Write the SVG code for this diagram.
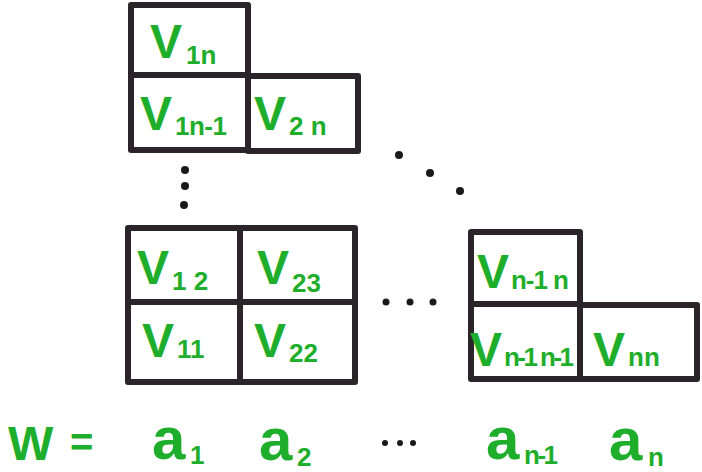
<svg xmlns="http://www.w3.org/2000/svg" width="702" height="472" viewBox="0 0 702 472">
<style>
.cell{fill:#fff;stroke:#2b2428;stroke-width:6;stroke-linejoin:round}
.lbl{font-family:"Liberation Sans",Arial,sans-serif;font-weight:bold;fill:#1fae2c}
.big{font-size:48px}
.sub{font-size:26px}
.aa{font-size:60px}
.dot{fill:#1a1a1a}
</style>
<rect width="702" height="472" fill="#fff"/>
<g id="top-group">
<g id="v1n"><rect class="cell" x="131" y="5" width="117" height="70"/>
<text class="lbl big" x="150" y="58">V</text><text class="lbl sub" x="186" y="64">1n</text></g>
<g id="v1n-1"><rect class="cell" x="131" y="75" width="117" height="75"/>
<text class="lbl big" x="140" y="130">V</text><text class="lbl sub" x="175" y="135" textLength="52">1n-1</text></g>
<g id="v2n"><rect class="cell" x="248" y="76" width="110" height="75"/>
<text class="lbl big" x="254" y="130">V</text><text class="lbl sub" x="289" y="135">2 n</text></g>
</g>
<g id="middle-group">
<g id="v12"><rect class="cell" x="128" y="228" width="112" height="74"/>
<text class="lbl big" x="137" y="284">V</text><text class="lbl sub" x="172" y="290">1 2</text></g>
<g id="v23"><rect class="cell" x="240" y="228" width="115" height="74"/>
<text class="lbl big" x="257" y="284">V</text><text class="lbl sub" x="292" y="292">23</text></g>
<g id="v11"><rect class="cell" x="128" y="302" width="112" height="80"/>
<text class="lbl big" x="142" y="357">V</text><text class="lbl sub" x="177" y="358">11</text></g>
<g id="v22"><rect class="cell" x="240" y="302" width="115" height="80"/>
<text class="lbl big" x="254" y="357">V</text><text class="lbl sub" x="289" y="362">22</text></g>
</g>
<g id="right-group">
<g id="vn-1n"><rect class="cell" x="471" y="232" width="109" height="72"/>
<text class="lbl big" x="477" y="288">V</text><text class="lbl sub" x="511" y="289" textLength="58">n-1 n</text></g>
<g id="vn-1n-1"><rect class="cell" x="471" y="304" width="109" height="75"/>
<text class="lbl big" x="470" y="366">V</text><text class="lbl sub" x="504" y="366" textLength="70">n-1 n-1</text></g>
<g id="vnn"><rect class="cell" x="580" y="305" width="117" height="74"/>
<text class="lbl big" x="593" y="366">V</text><text class="lbl sub" x="628" y="366">nn</text></g>
</g>
<g id="dots">
<circle class="dot" cx="185" cy="170" r="4"/>
<circle class="dot" cx="185" cy="186" r="4"/>
<circle class="dot" cx="184" cy="205" r="4"/>
<circle class="dot" cx="399" cy="155" r="4"/>
<circle class="dot" cx="430" cy="173" r="4"/>
<circle class="dot" cx="460" cy="191" r="4"/>
<circle class="dot" cx="386" cy="302" r="3.5"/>
<circle class="dot" cx="410" cy="302" r="3.5"/>
<circle class="dot" cx="433" cy="302" r="3.5"/>
<circle class="dot" cx="385" cy="443" r="3"/>
<circle class="dot" cx="400" cy="443" r="3"/>
<circle class="dot" cx="413" cy="443" r="3"/>
</g>
<g id="word">
<text class="lbl big" x="8" y="460" textLength="42">W</text>
<text class="lbl" x="70" y="456" font-size="40">=</text>
<text class="lbl aa" x="152" y="459">a</text><text class="lbl sub" x="190" y="464">1</text>
<text class="lbl aa" x="259" y="460">a</text><text class="lbl sub" x="297" y="466">2</text>
<text class="lbl aa" x="486" y="459">a</text><text class="lbl sub" x="524" y="464" textLength="34">n-1</text>
<text class="lbl aa" x="609" y="460">a</text><text class="lbl sub" x="648" y="466">n</text>
</g>
</svg>
